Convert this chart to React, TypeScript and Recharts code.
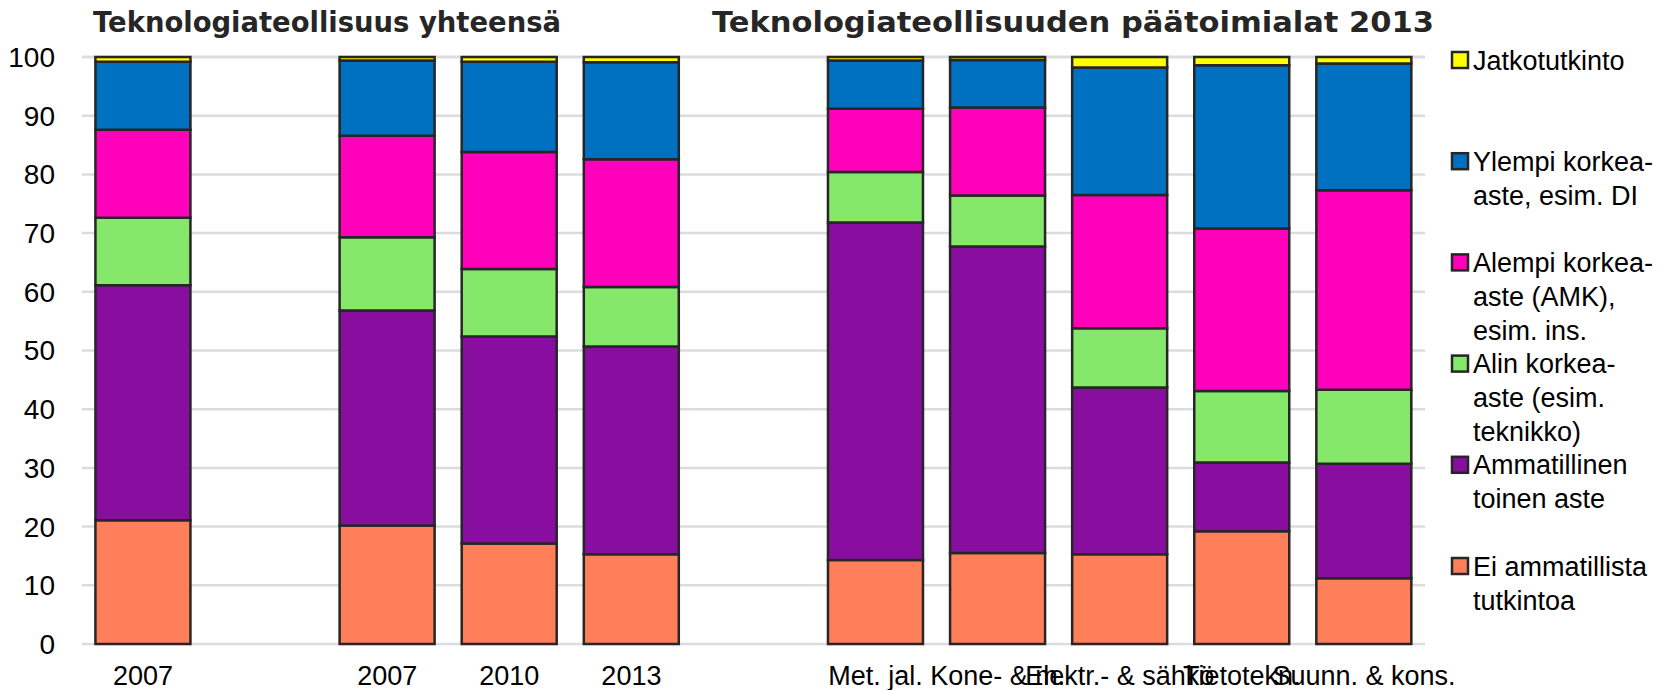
import { BarChart, Bar, XAxis, YAxis, CartesianGrid } from "recharts";

const categories = [
  "2007",
  "",
  "2007",
  "2010",
  "2013",
  "",
  "Met. jal.",
  "Kone- & m.",
  "Elektr.- & sähkö",
  "Tietotekn.",
  "Suunn. & kons.",
];

// shares in %, bottom of the stack first
const eiAmmatillista = [21.1, null, 20.2, 17.1, 15.3, null, 14.3, 15.5, 15.3, 19.2, 11.2];
const ammatillinen = [40.0, null, 36.6, 35.3, 35.4, null, 57.5, 52.2, 28.4, 11.7, 19.5];
const alinKorkea = [11.5, null, 12.5, 11.5, 10.1, null, 8.6, 8.7, 10.1, 12.2, 12.6];
const alempiKorkea = [15.0, null, 17.3, 19.9, 21.8, null, 10.8, 15.0, 22.7, 27.7, 34.0];
const ylempiKorkea = [11.6, null, 12.8, 15.4, 16.5, null, 8.2, 8.1, 21.7, 27.8, 21.6];
const jatkotutkinto = [0.8, null, 0.6, 0.8, 0.9, null, 0.6, 0.5, 1.8, 1.4, 1.1];

const yTicks = [0, 10, 20, 30, 40, 50, 60, 70, 80, 90, 100];

const titles = ["Teknologiateollisuus yhteensä", "Teknologiateollisuuden päätoimialat 2013"];

const series = [
  { key: "ei", values: eiAmmatillista, color: "#ff7f5b", legend: ["Ei ammatillista", "tutkintoa"] },
  { key: "amm", values: ammatillinen, color: "#880e9f", legend: ["Ammatillinen", "toinen aste"] },
  { key: "alin", values: alinKorkea, color: "#86e86b", legend: ["Alin korkea-", "aste (esim.", "teknikko)"] },
  { key: "alempi", values: alempiKorkea, color: "#ff00bb", legend: ["Alempi korkea-", "aste (AMK),", "esim. ins."] },
  { key: "ylempi", values: ylempiKorkea, color: "#0070c0", legend: ["Ylempi korkea-", "aste, esim. DI"] },
  { key: "jatko", values: jatkotutkinto, color: "#ffff00", legend: ["Jatkotutkinto"] },
];

const data = categories.map((label, i) => {
  const row: Record<string, string | number | null> = { label };
  series.forEach((s) => {
    row[s.key] = s.values[i];
  });
  return row;
});

const FONT = "'Liberation Sans', Arial, sans-serif";
const TITLE_FONT = "'DejaVu Sans', Verdana, sans-serif";
const EDGE = "#262626";

function CategoryTick({ x, y, payload }: any) {
  return (
    <text x={x} y={y + 41} textAnchor="middle" fontSize={27} fontFamily={FONT} fill="#000">
      {payload.value}
    </text>
  );
}

function Overlay() {
  const legendItems = [...series].reverse();
  return (
    <svg
      width={1661}
      height={690}
      style={{ position: "absolute", left: 0, top: 0, pointerEvents: "none" }}
    >
      <text
        x={93}
        y={32}
        fontFamily={TITLE_FONT}
        fontWeight="bold"
        fontSize={28}
        fill="#262626"
        textLength={468}
        lengthAdjust="spacingAndGlyphs"
      >
        {titles[0]}
      </text>
      <text
        x={712}
        y={32}
        fontFamily={TITLE_FONT}
        fontWeight="bold"
        fontSize={28}
        fill="#262626"
        textLength={722}
        lengthAdjust="spacingAndGlyphs"
      >
        {titles[1]}
      </text>
      {legendItems.map((s, i) => {
        const cy = 60 + i * 101.2;
        return (
          <g key={s.key}>
            <rect x={1452} y={cy - 8} width={16} height={16} fill={s.color} stroke={EDGE} strokeWidth={2.5} />
            {s.legend.map((line, j) => (
              <text key={j} x={1473} y={cy + 9.5 + j * 34} fontSize={27} fontFamily={FONT} fill="#000">
                {line}
              </text>
            ))}
          </g>
        );
      })}
    </svg>
  );
}

export default function App() {
  return (
    <div style={{ position: "absolute", left: 0, top: 0, width: 1661, height: 690, background: "#fff" }}>
      <BarChart
        width={1661}
        height={690}
        data={data}
        margin={{ top: 57, right: 236, bottom: 0, left: 22 }}
        barCategoryGap="11%"
      >
        <CartesianGrid vertical={false} stroke="#dcdcde" strokeWidth={2.5} />
        <XAxis
          dataKey="label"
          interval={0}
          axisLine={false}
          tickLine={false}
          tickSize={0}
          tickMargin={0}
          height={46}
          tick={<CategoryTick />}
        />
        <YAxis
          domain={[0, 100]}
          ticks={yTicks}
          axisLine={false}
          tickLine={false}
          tickSize={0}
          tickMargin={27}
          width={60}
          tick={{ fontSize: 28, fill: "#000", fontFamily: FONT }}
        />
        {series.map((s) => (
          <Bar
            key={s.key}
            dataKey={s.key}
            stackId="a"
            fill={s.color}
            stroke={EDGE}
            strokeWidth={2.5}
            isAnimationActive={false}
          />
        ))}
      </BarChart>
      <Overlay />
    </div>
  );
}
